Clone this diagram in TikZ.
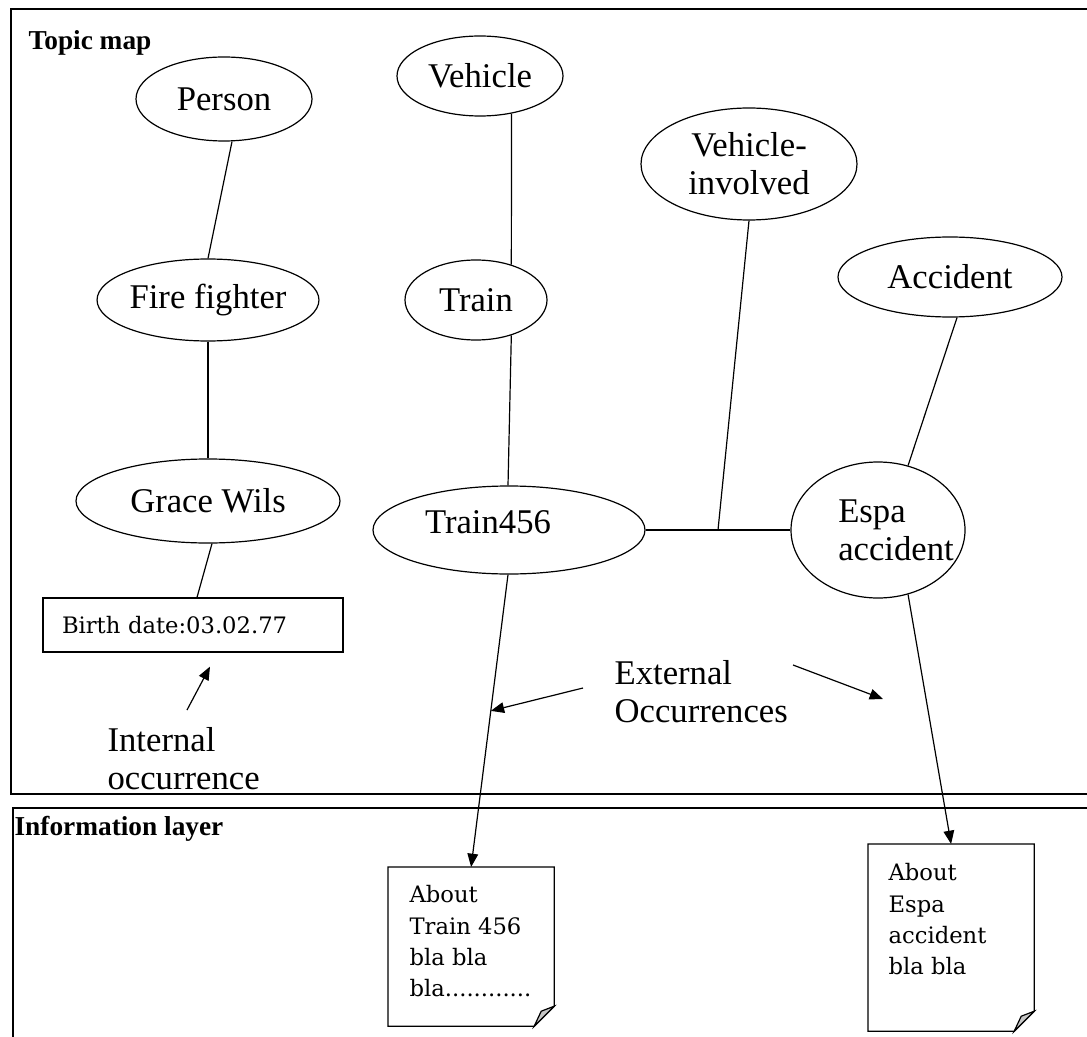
\documentclass[tikz,border=0pt]{standalone}
\usepackage{fontspec}
\setmainfont{Liberation Serif}
\newfontfamily\docfont{DejaVu Serif}
\usetikzlibrary{shapes.geometric,arrows.meta,calc}

% outline of a page with a folded lower right corner
\newcommand\pageoutline[1]{%
  \draw[fill=white] (#1.north west) -- (#1.north east)
    -- ([shift={(0,-20)}]#1.south east) -- ([shift={(-20,0)}]#1.south east)
    -- (#1.south west) -- cycle;
  \draw[fill=gray!45] ([shift={(0,-20)}]#1.south east)
    -- ([shift={(-13,-15)}]#1.south east) -- ([shift={(-20,0)}]#1.south east) -- cycle;
}

\begin{document}
\begin{tikzpicture}[x=0.75pt,y=-0.75pt,line width=0.9pt,
  mainfont/.style={font=\fontsize{26pt}{28.5pt}\selectfont},
  topic/.style={draw, ellipse, inner sep=0pt, align=center, mainfont},
  esize/.style 2 args={minimum width=#1*1.5pt, minimum height=#2*1.5pt},
  toptext/.style={inner sep=0pt, mainfont},
  caption/.style={inner sep=0pt, align=left, mainfont},
  layer/.style={inner sep=0pt, font=\bfseries\fontsize{20.5pt}{24pt}\selectfont},
  frame/.style={line width=1.6pt},
  doctext/.style={inner sep=0pt, align=left, anchor=north west,
    font=\docfont\fontsize{17pt}{23.5pt}\selectfont},
  page/.style={inner sep=0pt, anchor=north west},
  arr/.style={-{Triangle[length=10pt,width=8pt]}}]

\useasboundingbox (0,0) rectangle (1087,1037);

% layer frames
\draw[frame] (1087,9) -- (11,9) -- (11,794) -- (1087,794);
\draw[frame] (1087,808) -- (13,808) -- (13,1037);
\node[layer, anchor=base west] (tmlabel) at (28,50) {Topic map};
\node[layer, anchor=base west] (illabel) at (14,835) {Information layer};

% topics
\node[topic, esize={88}{42}]  (person)   at (224,99)  {Person};
\node[topic, esize={83}{40}]  (vehicle)  at (480,76)  {Vehicle};
\node[topic, esize={108}{56}] (vinv)     at (749,164) {Vehicle-\\involved};
\node[topic, esize={112}{40}] (accident) at (950,277) {Accident};
\node[topic, esize={104}{41}] (fire)     at (208,300) {Fire fighter};
\node[topic, esize={71}{40}]  (train)    at (476,300) {Train};
\node[topic, esize={132}{42}] (grace)    at (208,501) {Grace Wils};
\node[topic, esize={136}{44},
  label={[toptext, shift={(-21,-8)}]center:Train456}] (t456) at (509,530) {};
\node[topic, esize={87}{68},
  label={[toptext, align=left, shift={(18,0)}]center:Espa\\accident}] (espa) at (878,530) {};

% internal occurrence
\node[draw, rectangle, align=left, text width=196.5pt, inner xsep=14.25pt,
  minimum height=40.5pt, font=\docfont\fontsize{17pt}{20pt}\selectfont]
  (birth) at (193,625) {Birth date:03.02.77};

% associations
\draw ([shift={(8,0)}]person.south) -- (fire.north);
\draw (fire.south) -- (grace.north);
\draw ([shift={(4,0)}]grace.south) -- ([shift={(4,0)}]birth.north);
\draw (vehicle.-50) -- (train.45);
\draw (train.-45) -- ([shift={(-1,0)}]t456.north);
\coordinate (junc) at ($(t456.east)!0.5!(espa.west)$);
\draw (t456.east) -- (espa.west);
\draw (vinv.south) -- (junc);
\draw ([shift={(7,0)}]accident.south) -- (espa.65);

% information layer pages
\node[page, minimum width=123.75pt, minimum height=118.5pt] (doc1) at (388,867) {};
\node[page, minimum width=123.75pt, minimum height=139.5pt] (doc2) at (868,844) {};
\pageoutline{doc1}
\pageoutline{doc2}
\node[doctext] (doc1text) at (409,885) {About\\Train 456\\bla bla\\bla............};
\node[doctext] (doc2text) at (888,863) {About\\Espa\\accident\\bla bla};

% external occurrences
\draw[arr] ([shift={(-1,0)}]t456.south) -- (doc1.north);
\draw[arr] (espa.-65) -- (doc2.north);

% captions and pointers
\node[caption, anchor=north west] (extcap) at (614,660) {External\\Occurrences};
\node[caption, anchor=north west] (intcap) at (107,727) {Internal\\occurrence};
\coordinate (extA) at (583,688);
\coordinate (extAtip) at ($([shift={(-1,0)}]t456.south)!0.466!(doc1.north)$);
\coordinate (extB) at (793,665);
\coordinate (extBtip) at (883,699);
\coordinate (intA) at (187,710);
\draw[arr] (extA) -- (extAtip);
\draw[arr] (extB) -- (extBtip);
\draw[arr] (intA) -- ([shift={(17,14)}]birth.south);

\end{tikzpicture}
\end{document}
